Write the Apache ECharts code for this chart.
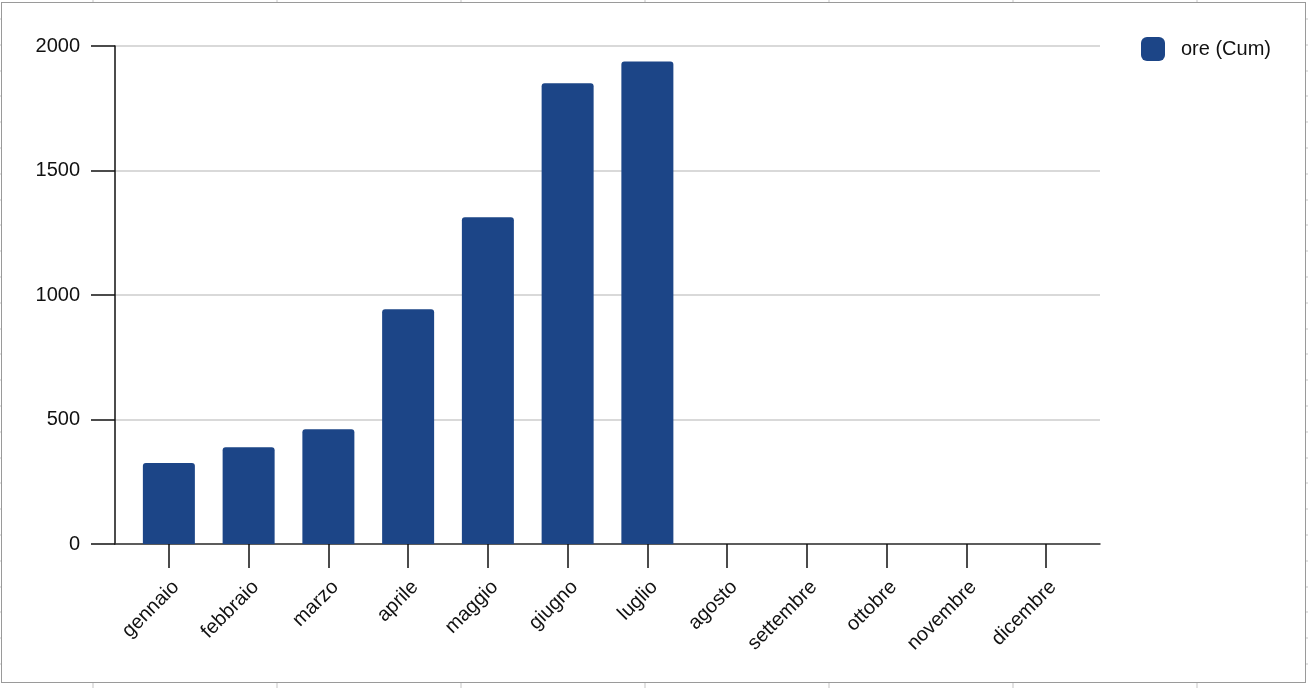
<!DOCTYPE html>
<html>
<head>
<meta charset="utf-8">
<script src="https://cdn.jsdelivr.net/npm/echarts@6/dist/echarts.min.js"></script>
<style>
  html, body { margin: 0; padding: 0; width: 1308px; height: 688px; overflow: hidden; }
  body {
    background-color: #ffffff;
    background-image:
      repeating-linear-gradient(to right, transparent 0, transparent 92px, #e2e2e2 92px, #e2e2e2 94px, transparent 94px, transparent 184px),
      repeating-linear-gradient(to bottom, transparent 0, transparent 18px, #e2e2e2 18px, #e2e2e2 20px, transparent 20px, transparent 25.8px);
    position: relative;
  }
  #frame {
    position: absolute; left: 1px; top: 2px; width: 1303px; height: 679px;
    border: 1px solid #9a9a9a; background: #ffffff;
  }
  #chart { position: absolute; left: 0; top: 0; width: 1308px; height: 688px; }
</style>
</head>
<body>
<div id="frame"></div>
<div id="chart"></div>
<script>
const categories = ['gennaio', 'febbraio', 'marzo', 'aprile', 'maggio', 'giugno', 'luglio', 'agosto', 'settembre', 'ottobre', 'novembre', 'dicembre'];
const oreCum = [325, 389, 461, 943, 1312, 1850, 1938, null, null, null, null, null];
const seriesName = 'ore (Cum)';
const yMin = 0, yMax = 2000, yStep = 500;

const font = '"Liberation Sans", Arial, sans-serif';
const textColor = '#111111';
const chart = echarts.init(document.getElementById('chart'), null, { renderer: 'canvas' });

chart.setOption({
  animation: false,
  backgroundColor: 'transparent',
  textStyle: { fontFamily: font },
  legend: {
    left: 1141, top: 37, padding: 0,
    itemWidth: 24, itemHeight: 24,
    icon: 'roundRect',
    data: [seriesName],
    textStyle: { fontSize: 20, color: textColor, fontFamily: font, padding: [0, 0, 0, 11] }
  },
  grid: [
    { left: 115, right: 208, top: 46, bottom: 144 },
    { left: 129, right: 222, top: 46, bottom: 144 }
  ],
  xAxis: [
    {
      gridIndex: 0, type: 'value', min: 0, max: 1,
      axisLine: { show: true, lineStyle: { color: '#333333', width: 1.5 } },
      axisTick: { show: false }, axisLabel: { show: false }, splitLine: { show: false }
    },
    {
      gridIndex: 1, type: 'category', data: categories,
      axisLine: { show: false },
      axisTick: { show: true, alignWithLabel: true, length: 24, lineStyle: { color: '#111111', width: 1.5 } },
      axisLabel: {
        rotate: 45, fontSize: 20, color: textColor, fontFamily: font, margin: 33,
        interval: 0, align: 'right', verticalAlign: 'top'
      }
    }
  ],
  yAxis: [
    {
      gridIndex: 0, type: 'value', min: yMin, max: yMax, interval: yStep,
      axisLine: { show: true, lineStyle: { color: '#111111', width: 1.5 } },
      axisTick: { show: true, length: 24, lineStyle: { color: '#111111', width: 1.5 } },
      axisLabel: { fontSize: 20, color: textColor, fontFamily: font, margin: 35, formatter: function (v) { return String(v); } },
      splitLine: { show: true, lineStyle: { color: '#cccccc', width: 1.5 } }
    },
    {
      gridIndex: 1, type: 'value', min: yMin, max: yMax, interval: yStep, show: false,
      splitLine: { show: false }
    }
  ],
  series: [
    {
      name: seriesName, type: 'bar', xAxisIndex: 1, yAxisIndex: 1,
      data: oreCum, barWidth: 52,
      itemStyle: { color: '#1c4587', borderRadius: [3, 3, 0, 0] }
    }
  ]
});
</script>
</body>
</html>
